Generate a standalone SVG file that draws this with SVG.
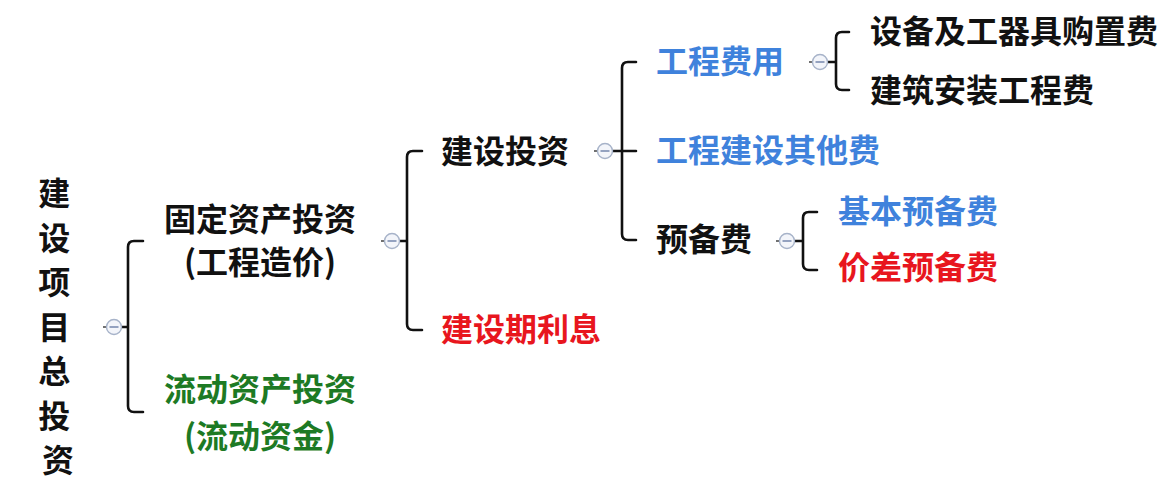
<svg xmlns="http://www.w3.org/2000/svg" width="1176" height="488" viewBox="0 0 1176 488">
<style>
.t{font-family:"Noto Sans CJK SC","Noto Sans",sans-serif;font-weight:bold;font-size:32px;fill:#111}
.blue{fill:#3f82dc}
.red{fill:#e8161e}
.green{fill:#1d7a24}
.br{fill:none;stroke:#111;stroke-width:2.6;stroke-linecap:round;stroke-linejoin:round}
.ic circle{fill:#f3f5fa;stroke:#a7b3c9;stroke-width:1.4}
.ic line{stroke:#6b7fa6;stroke-width:1.4}
.ic .d{stroke:#333;stroke-width:1.4}
</style>
<defs>
<g id="icon" class="ic">
<line class="d" x1="-11" y1="0" x2="-8" y2="0"/>
<circle cx="0" cy="0" r="7.5"/>
<line x1="-4.5" y1="0" x2="4.5" y2="0"/>
</g>
</defs>
<rect width="1176" height="488" fill="#ffffff"/>
<g id="connectors">
<path class="br" d="M143,241 H134 Q128,241 128,247 V406 Q128,412 134,412 H143 M122,327 H128"/>
<path class="br" d="M422,151 H413 Q407,151 407,157 V324 Q407,330 413,330 H422 M400,241 H407"/>
<path class="br" d="M636,62 H628 Q622,62 622,68 V234 Q622,240 628,240 H636 M613,151 H636"/>
<path class="br" d="M849,32 H842 Q836,32 836,38 V84 Q836,90 842,90 H849 M828,62 H836"/>
<path class="br" d="M817,212 H809 Q803,212 803,218 V264 Q803,270 809,270 H817 M795,241 H803"/>
<use href="#icon" x="114" y="327"/>
<use href="#icon" x="392" y="241"/>
<use href="#icon" x="605" y="151"/>
<use href="#icon" x="820" y="62"/>
<use href="#icon" x="787" y="241"/>
</g>
<g id="root">
<text class="t" text-anchor="middle">
<tspan x="58" y="205">建</tspan>
<tspan x="58" y="249.5">设</tspan>
<tspan x="58" y="294">项</tspan>
<tspan x="58" y="338.5">目</tspan>
<tspan x="58" y="383">总</tspan>
<tspan x="58" y="427.5">投</tspan>
<tspan x="58" y="472">资</tspan>
</text>
</g>
<g id="fixed">
<text class="t" x="260" y="231" text-anchor="middle">固定资产投资</text>
<text class="t" x="260" y="274" text-anchor="middle">(工程造价)</text>
</g>
<g id="current">
<text class="t green" x="260" y="401" text-anchor="middle">流动资产投资</text>
<text class="t green" x="260" y="448" text-anchor="middle">(流动资金)</text>
</g>
<g id="construction"><text class="t" x="441" y="163">建设投资</text></g>
<g id="interest"><text class="t red" x="441" y="341">建设期利息</text></g>
<g id="engineering"><text class="t blue" x="656" y="73">工程费用</text></g>
<g id="other"><text class="t blue" x="656" y="162">工程建设其他费</text></g>
<g id="reserve"><text class="t" x="656" y="251">预备费</text></g>
<g id="equipment"><text class="t" x="870" y="43">设备及工器具购置费</text></g>
<g id="building"><text class="t" x="870" y="102">建筑安装工程费</text></g>
<g id="basic"><text class="t blue" x="838" y="223">基本预备费</text></g>
<g id="price"><text class="t red" x="838" y="279">价差预备费</text></g>
</svg>
